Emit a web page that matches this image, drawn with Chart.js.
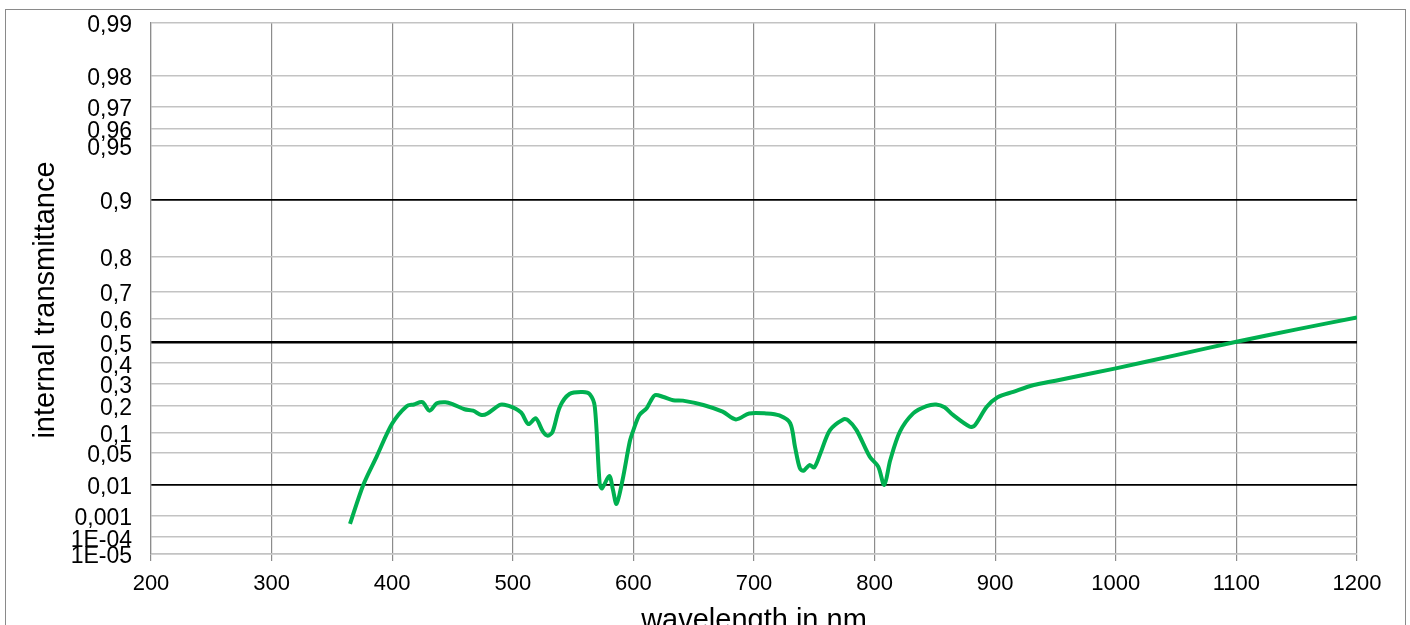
<!DOCTYPE html>
<html>
<head>
<meta charset="utf-8">
<script src="https://cdn.jsdelivr.net/npm/chart.js@4.4.1/dist/chart.umd.min.js"></script>
<style>
    html, body { margin: 0; padding: 0; background: #fff; overflow: hidden; }
    #wrap { position: relative; width: 1410px; height: 625px; }
    #frame {
        position: absolute; left: 5px; top: 9px; width: 1401px; height: 640px;
        border: 1px solid #8a8a8a; box-sizing: border-box;
    }
    #chart { position: absolute; left: 0; top: 0; }
</style>
</head>
<body>
<div id="wrap">
    <div id="frame"></div>
    <canvas id="chart" width="1410" height="625"></canvas>
</div>
<script>
// wavelength in nm
const wavelengths = [
    365, 376, 387, 400, 412, 418, 425, 431, 437, 444, 450, 460, 467, 474, 479,
    489, 493, 500, 507, 513, 519, 525, 529, 533, 539, 547, 558, 564, 568, 572,
    574, 580, 583, 586, 591, 597, 600, 605, 611, 614, 618, 625, 633, 641, 658,
    674, 685, 696, 710, 721, 730, 734, 738, 741, 746, 750, 755, 763, 774, 778,
    785, 796, 803, 808, 813, 821, 832, 843, 851, 858, 865, 879, 883, 893, 902,
    915, 932, 950, 1000, 1050, 1100, 1150, 1200,
];

// internal transmittance (0..1)
const transmittance = [
    0.00044, 0.010, 0.042, 0.13, 0.198, 0.205, 0.215, 0.179, 0.21, 0.215, 0.207, 0.185, 0.179, 0.162, 0.168,
    0.203, 0.204, 0.193, 0.171, 0.128, 0.149, 0.103, 0.091, 0.103, 0.195, 0.252, 0.261, 0.25, 0.195, 0.011,
    0.0081, 0.0167, 0.0075, 0.0027, 0.0134, 0.075, 0.108, 0.162, 0.189, 0.217, 0.247, 0.238, 0.224, 0.222, 0.203,
    0.175, 0.145, 0.168, 0.168, 0.16, 0.131, 0.062, 0.025, 0.022, 0.029, 0.026, 0.048, 0.108, 0.145, 0.142,
    0.108, 0.042, 0.027, 0.010, 0.0365, 0.103, 0.168, 0.198, 0.205, 0.193, 0.162, 0.119, 0.123, 0.195, 0.237,
    0.262, 0.294, 0.315, 0.375, 0.439, 0.502, 0.557, 0.607,
];

const yTickValues = [0.99, 0.98, 0.97, 0.96, 0.95, 0.9, 0.8, 0.7, 0.6, 0.5, 0.4, 0.3, 0.2, 0.1, 0.05, 0.01, 0.001, 1e-4, 1e-5];
const yTickLabels = ['0,99', '0,98', '0,97', '0,96', '0,95', '0,9', '0,8', '0,7', '0,6', '0,5', '0,4', '0,3', '0,2', '0,1', '0,05', '0,01', '0,001', '1E-04', '1E-05'];
const referenceLines = [0.9, 0.5, 0.01];

const green = '#00b050';
const gridLight = '#c3c3c3';
const gridDark = '#8c8c8c';
const fontFamily = "'Liberation Sans', Arial, sans-serif";

// double-log transmittance axis: y = -ln(-ln T)
const toAxis = (t) => -Math.log(-Math.log(t));

const yTitle = {
    id: 'yTitle',
    afterDraw(chart) {
        const ctx = chart.ctx;
        ctx.save();
        ctx.translate(46, 300);
        ctx.rotate(-Math.PI / 2);
        ctx.font = '29px ' + fontFamily;
        ctx.fillStyle = '#000';
        ctx.textAlign = 'center';
        ctx.textBaseline = 'middle';
        ctx.fillText('internal transmittance', 0, 0);
        ctx.restore();
    },
};

new Chart(document.getElementById('chart'), {
    type: 'line',
    data: {
        datasets: [
            {
                data: wavelengths.map((w, i) => ({ x: w, y: toAxis(transmittance[i]) })),
                borderColor: green,
                borderWidth: 4,
                pointRadius: 0,
                tension: 0.3,
                fill: false,
            },
        ],
    },
    options: {
        responsive: false,
        animation: false,
        layout: { padding: { top: 23, right: 53, bottom: 0, left: 0 } },
        plugins: {
            legend: { display: false },
            tooltip: { enabled: false },
        },
        scales: {
            x: {
                type: 'linear',
                min: 200,
                max: 1200,
                ticks: {
                    stepSize: 100,
                    padding: 10,
                    color: '#000',
                    font: { family: fontFamily, size: 22 },
                    maxRotation: 0,
                    callback: (value) => String(value),
                },
                grid: { color: gridDark, lineWidth: 1.2, tickLength: 7, drawTicks: true },
                border: { color: gridLight, width: 1.5 },
                title: {
                    display: true,
                    text: 'wavelength in nm',
                    color: '#000',
                    font: { family: fontFamily, size: 29, lineHeight: 0.3 },
                    padding: 0,
                },
                afterFit: (scale) => { scale.height = 71; },
            },
            y: {
                type: 'linear',
                min: toAxis(1e-5),
                max: toAxis(0.99),
                afterBuildTicks: (scale) => {
                    scale.ticks = yTickValues.map((v) => ({ value: toAxis(v) }));
                },
                ticks: {
                    autoSkip: false,
                    padding: 19,
                    labelOffset: 3,
                    color: '#000',
                    font: { family: fontFamily, size: 23 },
                    callback: (value, index) => yTickLabels[index],
                },
                grid: {
                    drawTicks: false,
                    color: (ctx) => (referenceLines.includes(yTickValues[ctx.index]) ? '#000' : gridLight),
                    lineWidth: (ctx) => {
                        const v = yTickValues[ctx.index];
                        if (v === 0.5) return 2.5;
                        return referenceLines.includes(v) ? 1.8 : 1.5;
                    },
                },
                border: { color: gridDark, width: 1.2 },
                afterFit: (scale) => {
                    scale.width = 151;
                    scale.paddingTop = 0;
                    scale.paddingBottom = 0;
                },
            },
        },
    },
    plugins: [yTitle],
});
</script>
</body>
</html>
